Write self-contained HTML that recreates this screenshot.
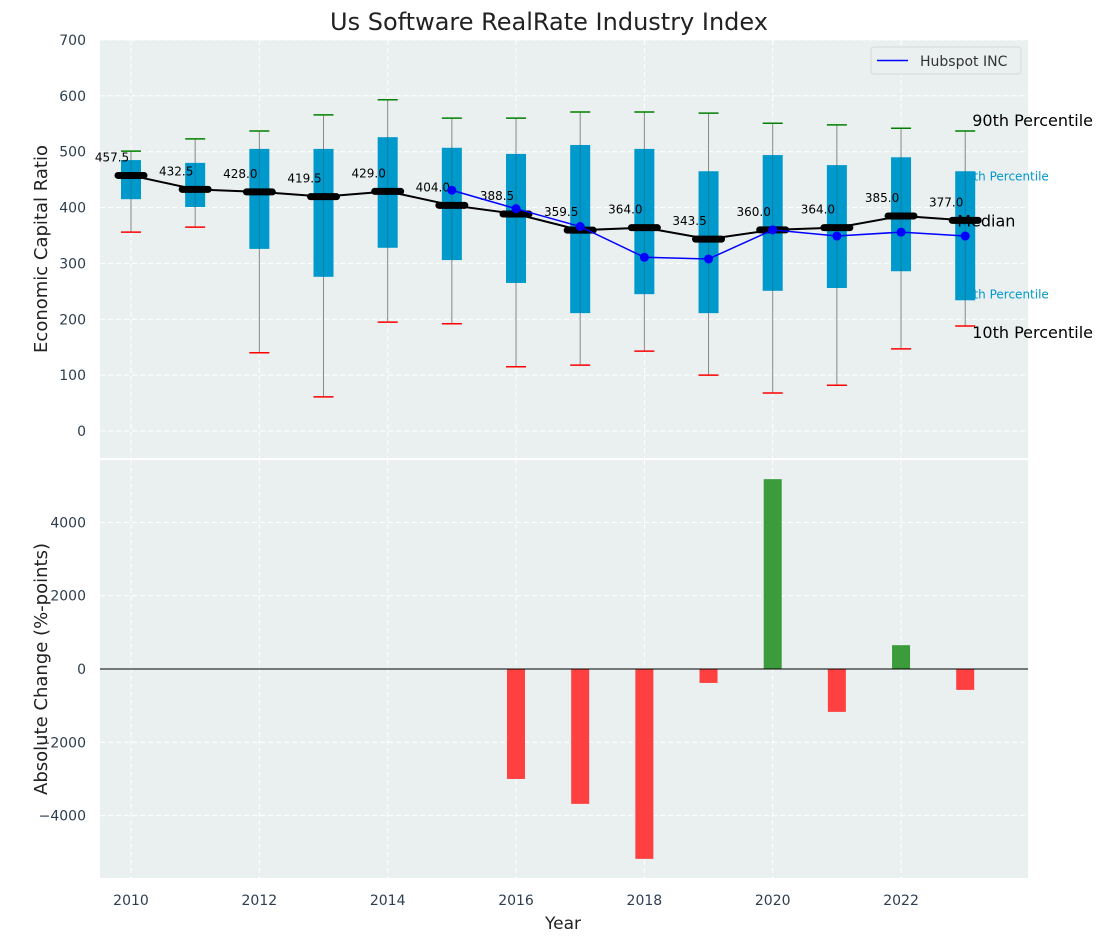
<!DOCTYPE html>
<html><head><meta charset="utf-8"><style>
body{margin:0;background:#fff;}
svg text{font-family:"DejaVu Sans","Liberation Sans",sans-serif;}
</style></head><body>
<svg id="c" width="1107" height="942" xmlns="http://www.w3.org/2000/svg"></svg>
<script>
const years=[2010,2011,2012,2013,2014,2015,2016,2017,2018,2019,2020,2021,2022,2023];
const p10=[356,365,140,61,195,192,115,118,143,100,68,82,147,188];
const p25=[415,401,326,276,328,306,265,211,245,211,251,256,286,234];
const median=[457.5,432.5,428,419.5,429,404,388.5,359.5,364,343.5,360,364,385,377];
const p75=[485,480,505,505,526,507,496,512,505,465,494,476,490,465];
const p90=[501,523,537,566,593,560,560,571,571,569,551,548,542,537];
const hubYears=[2015,2016,2017,2018,2019,2020,2021,2022,2023];
const hubVals=[431,398,366,311,308,360,349,356,349];
const chgYears=[2016,2017,2018,2019,2020,2021,2022,2023];
const chgVals=[-3000,-3680,-5180,-380,5180,-1170,650,-570];
const yTicksTop=[0,100,200,300,400,500,600,700];
const yTicksBot=[-4000,-2000,0,2000,4000];
const xTicks=[2010,2012,2014,2016,2018,2020,2022];

const NS="http://www.w3.org/2000/svg";
const svg=document.getElementById('c');
function el(tag,attrs,parent,text){const e=document.createElementNS(NS,tag);for(const k in attrs)e.setAttribute(k,attrs[k]);if(text!==undefined)e.textContent=text;(parent||svg).appendChild(e);return e;}
const L=100,R=1028,T1=40,B1=458,T2=460,B2=878;
const X=y=>131+(y-2010)*64.17;
const Y1=v=>431-v*0.5586;
const Y2=v=>669-v*0.03665;

let r=el('rect',{x:L,y:T1,width:R-L,height:B1-T1,fill:'#eaeff0'});

r=el('rect',{x:L,y:T2,width:R-L,height:B2-T2,fill:'#eaeff0'});


xTicks.forEach(t=>{
  el('line',{x1:X(t),x2:X(t),y1:T1,y2:B1,stroke:'#fff','stroke-dasharray':'5,3'});
  el('line',{x1:X(t),x2:X(t),y1:T2,y2:B2,stroke:'#fff','stroke-dasharray':'5,3'});
  const tx=el('text',{x:X(t),y:905,'text-anchor':'middle','font-size':14,fill:'#2d3e50'},null,t);
  
});
yTicksTop.forEach(t=>{
  el('line',{x1:L,x2:R,y1:Y1(t),y2:Y1(t),stroke:'#fff','stroke-dasharray':'5,3'});
  const tx=el('text',{x:86,y:Y1(t)+5,'text-anchor':'end','font-size':14,fill:'#2d3e50'},null,t);
  
});
yTicksBot.forEach(t=>{
  el('line',{x1:L,x2:R,y1:Y2(t),y2:Y2(t),stroke:'#fff','stroke-dasharray':'5,3'});
  const tx=el('text',{x:86,y:Y2(t)+5,'text-anchor':'end','font-size':14,fill:'#2d3e50'},null,t<0?'\u2212'+(-t):t);
  
});

const lx=X(2023);
[['75th Percentile',lx-7,Y1(465)+9],['25th Percentile',lx-7,Y1(234)-2]].forEach(a=>{
  const t=el('text',{x:a[1],y:a[2],'font-size':12,fill:'#0099cc'},null,a[0]);
  
});

years.forEach((y,i)=>{
  const x=X(y);
  const g=el('g',{});
  
  el('line',{x1:x,x2:x,y1:Y1(p90[i]),y2:Y1(p10[i]),stroke:'#888','stroke-width':1},g);
  el('rect',{x:x-10,y:Y1(p75[i]),width:20,height:Y1(p25[i])-Y1(p75[i]),fill:'#0099cc'},g);
  el('line',{x1:x,x2:x,y1:Y1(p75[i]),y2:Y1(p25[i]),stroke:'#1a6f8a','stroke-width':1,opacity:0.6},g);
  el('line',{x1:x-10,x2:x+10,y1:Y1(p90[i]),y2:Y1(p90[i]),stroke:'green','stroke-width':1.5},g);
  el('line',{x1:x-10,x2:x+10,y1:Y1(p10[i]),y2:Y1(p10[i]),stroke:'red','stroke-width':1.5},g);
});
[['90th Percentile',lx+7,Y1(537)-5],['Median',lx-8,Y1(377)+6],['10th Percentile',lx+7,Y1(188)+12]].forEach(a=>{
  const t=el('text',{x:a[1],y:a[2],'font-size':16,fill:'#000'},null,a[0]);
  
});
el('polyline',{points:years.map((y,i)=>X(y)+','+Y1(median[i])).join(' '),fill:'none',stroke:'#000','stroke-width':2});
years.forEach((y,i)=>{
  const m=el('line',{x1:X(y)-13,x2:X(y)+13,y1:Y1(median[i]),y2:Y1(median[i]),stroke:'#000','stroke-width':7,'stroke-linecap':'round'});
  
  const t=el('text',{x:X(y)-19,y:Y1(median[i])-14,'text-anchor':'middle','font-size':12,fill:'#000'},null,median[i].toFixed(1));
  
});
const hl=el('polyline',{points:hubYears.map((y,i)=>X(y)+','+Y1(hubVals[i])).join(' '),fill:'none',stroke:'blue','stroke-width':1.5});

hubYears.forEach((y,i)=>{const c=el('circle',{cx:X(y),cy:Y1(hubVals[i]),r:4.5,fill:'blue'});
});

chgYears.forEach((y,i)=>{
  const v=chgVals[i];
  const b=el('rect',{x:X(y)-9,y:Math.min(Y2(v),Y2(0)),width:18,height:Math.abs(Y2(v)-Y2(0)),fill:v>=0?'#3c9c3c':'#ff4040'});
  
});
el('line',{x1:L,x2:R,y1:Y2(0),y2:Y2(0),stroke:'#000','stroke-width':1});

const lg=el('g',{});
el('rect',{x:871,y:47,width:150,height:27,rx:3,fill:'#eaeff0',stroke:'#d5d9db'},lg);
el('line',{x1:877,x2:908,y1:60.5,y2:60.5,stroke:'blue','stroke-width':1.5},lg);
el('text',{x:920,y:66,'font-size':14,fill:'#333'},lg,'Hubspot INC');

let t=el('text',{x:549,y:30,'text-anchor':'middle','font-size':24,fill:'#222'},null,'Us Software RealRate Industry Index');

t=el('text',{x:563,y:929,'text-anchor':'middle','font-size':17,fill:'#222'},null,'Year');

t=el('text',{x:0,y:0,'text-anchor':'middle','font-size':18,fill:'#222',transform:'translate(47,249) rotate(-90)'},null,'Economic Capital Ratio');

t=el('text',{x:0,y:0,'text-anchor':'middle','font-size':18,fill:'#222',transform:'translate(47,669) rotate(-90)'},null,'Absolute Change (%-points)');

</script>
</body></html>
